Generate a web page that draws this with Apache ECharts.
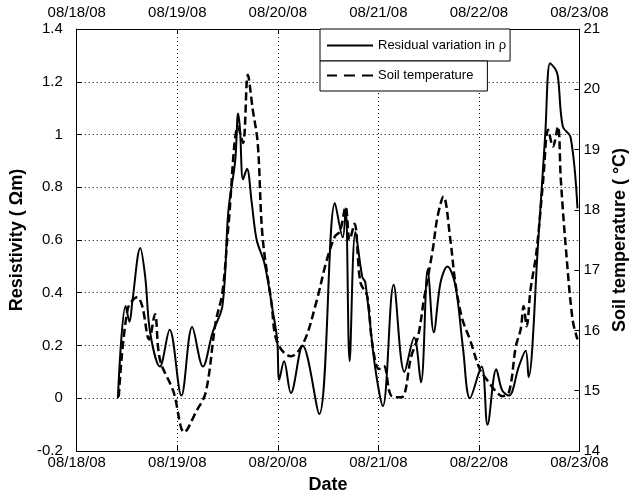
<!DOCTYPE html>
<html>
<head>
<meta charset="utf-8">
<script src="https://cdn.jsdelivr.net/npm/echarts@6/dist/echarts.min.js"></script>
<style>html,body{margin:0;padding:0;background:#fff;}#c{width:637px;height:499px;}</style>
</head>
<body>
<div id="c"></div>
<script>
// Time in fractional day-of-month (August 2008)
const resistDays = [18.409,18.486,18.525,18.554,18.632,18.681,18.730,18.827,18.924,19.041,19.148,19.255,19.352,19.449,19.508,19.576,19.605,19.624,19.654,19.693,19.741,19.790,19.868,19.946,19.994,20.014,20.062,20.130,20.247,20.412,20.568,20.646,20.675,20.714,20.772,20.840,20.870,20.967,21.045,21.152,21.259,21.356,21.424,21.492,21.551,21.619,21.687,21.765,21.842,21.911,22.027,22.086,22.173,22.232,22.300,22.397,22.465,22.494,22.591,22.660,22.708,22.757,22.786,22.835,22.912,22.981];
const resistivity = [0.00,0.35,0.29,0.37,0.57,0.46,0.25,0.12,0.26,0.01,0.27,0.12,0.25,0.35,0.71,0.90,1.08,1.02,0.83,0.87,0.74,0.60,0.51,0.34,0.22,0.07,0.14,0.02,0.20,-0.06,0.74,0.61,0.72,0.14,0.63,0.46,0.44,0.12,-0.03,0.43,0.10,0.23,0.06,0.49,0.25,0.44,0.50,0.43,0.19,0.00,0.12,-0.10,0.11,0.03,0.01,0.12,0.18,0.08,0.60,1.00,1.27,1.25,1.22,1.03,0.99,0.72];
const tempDays = [18.418,18.506,18.603,18.652,18.720,18.778,18.827,18.963,19.070,19.187,19.284,19.381,19.449,19.508,19.605,19.654,19.702,19.751,19.800,19.848,19.936,19.994,20.130,20.257,20.383,20.481,20.568,20.617,20.675,20.714,20.763,20.821,20.889,20.938,21.006,21.054,21.132,21.230,21.327,21.395,21.453,21.541,21.589,21.648,21.716,21.765,21.833,21.911,22.008,22.076,22.173,22.232,22.300,22.368,22.416,22.445,22.475,22.514,22.572,22.640,22.689,22.737,22.786,22.815,22.864,22.932,22.981];
const soilTemp = [14.90,16.35,16.55,16.40,15.85,16.27,15.52,14.98,14.31,14.65,14.98,16.13,16.63,17.72,19.38,19.11,20.24,19.66,19.11,17.56,16.47,15.80,15.57,15.80,16.47,17.13,17.56,17.64,18.05,17.50,17.77,16.80,16.57,15.80,15.36,15.41,14.91,14.89,15.57,15.90,16.51,17.34,17.89,18.22,17.51,16.80,16.20,15.85,15.36,15.19,14.98,14.91,14.98,15.74,16.02,16.40,16.07,16.68,17.29,18.50,19.33,19.05,19.38,18.50,17.39,16.18,15.85];
const dateTicks = [18,19,20,21,22,23];

const font = "'Liberation Sans',Arial,sans-serif";
const lblFmt = v => '08/' + v + '/08';
const axisLine = {show:true, onZero:false, lineStyle:{color:'#000', width:1}};
const tick = {show:true, inside:true, length:5, lineStyle:{color:'#000'}};
const lbl = {color:'#000', fontSize:15, fontFamily:font};
const solidIcon = 'path://M0,0H46V2H0Z';
const dashIcon = 'path://M0,0H10V2H0Z M17,0H28V2H17Z M35,0H46V2H35Z';

const chart = echarts.init(document.getElementById('c'), null, {renderer:'canvas'});
chart.setOption({
  animation:false,
  backgroundColor:'#fff',
  grid:{left:68, right:55, top:29, bottom:47, containLabel:false},
  legend:[
    {data:[{name:'Residual variation in ρ', icon:solidIcon}], left:320, top:29, orient:'vertical',
     padding:[10,4,9,7], itemWidth:46, itemHeight:2.5, itemGap:4,
     borderColor:'#000', borderWidth:1, backgroundColor:'#fff',
     itemStyle:{color:'#000'},
     textStyle:{color:'#000', fontSize:13, fontFamily:font}},
    {data:[{name:'Soil temperature', icon:dashIcon}], left:320, top:61, orient:'vertical',
     padding:[8,14,9,7], itemWidth:46, itemHeight:2.5, itemGap:4,
     borderColor:'#000', borderWidth:1, backgroundColor:'#fff',
     itemStyle:{color:'#000'},
     textStyle:{color:'#000', fontSize:13, fontFamily:font}}
  ],
  xAxis:[
    {type:'value', min:dateTicks[0], max:dateTicks[dateTicks.length-1], interval:1, position:'bottom',
     axisLine, axisTick:tick, axisLabel:Object.assign({formatter:lblFmt, margin:4}, lbl),
     splitLine:{show:true, lineStyle:{color:'#000', type:[1,3], width:1}},
     name:'Date', nameLocation:'middle', nameGap:25,
     nameTextStyle:{color:'#000', fontSize:18, fontWeight:'bold', fontFamily:font}},
    {type:'value', min:dateTicks[0], max:dateTicks[dateTicks.length-1], interval:1, position:'top',
     axisLine, axisTick:tick, axisLabel:Object.assign({formatter:lblFmt, margin:9}, lbl),
     splitLine:{show:false}}
  ],
  yAxis:[
    {type:'value', min:-0.2, max:1.4, interval:0.2, position:'left',
     axisLine, axisTick:tick, axisLabel:Object.assign({margin:14}, lbl),
     splitLine:{show:true, lineStyle:{color:'#000', type:[1,3], width:1}},
     name:'Resistivity ( Ωm)', nameLocation:'middle', nameRotate:90, nameGap:37,
     nameTextStyle:{color:'#000', fontSize:18, fontWeight:'bold', fontFamily:font}},
    {type:'value', min:14, max:21, interval:1, position:'right',
     axisLine, axisTick:tick, axisLabel:Object.assign({margin:4}, lbl),
     splitLine:{show:false},
     name:'Soil temperature ( °C)', nameLocation:'middle', nameRotate:90, nameGap:31,
     nameTextStyle:{color:'#000', fontSize:18, fontWeight:'bold', fontFamily:font}}
  ],
  series:[
    {name:'Residual variation in ρ', type:'line', xAxisIndex:0, yAxisIndex:0,
     data:resistDays.map((d,i)=>[d, resistivity[i]]), showSymbol:false, symbol:'none', smooth:0.35,
     lineStyle:{color:'#000', width:2}, itemStyle:{color:'#000'}, z:3},
    {name:'Soil temperature', type:'line', xAxisIndex:0, yAxisIndex:1,
     data:tempDays.map((d,i)=>[d, soilTemp[i]]), showSymbol:false, symbol:'none', smooth:0.35,
     lineStyle:{color:'#000', width:2.5, type:[8,4]}, itemStyle:{color:'#000'}, z:2}
  ]
});
</script>
</body>
</html>
